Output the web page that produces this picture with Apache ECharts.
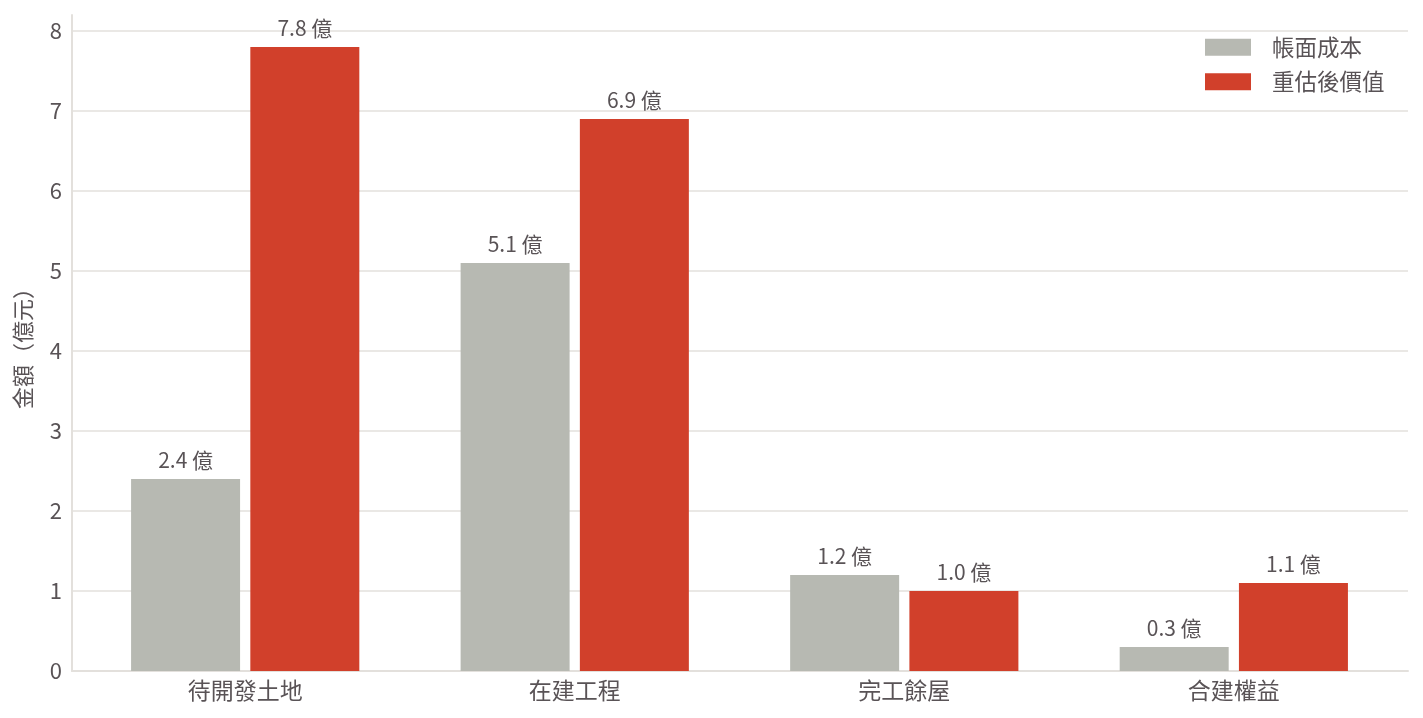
<!DOCTYPE html>
<html>
<head>
<meta charset="utf-8">
<script src="https://cdn.jsdelivr.net/npm/echarts@6/dist/echarts.min.js"></script>
<style>
html,body{margin:0;padding:0;background:#fff;}
#chart{width:1423px;height:718px;}
</style>
</head>
<body>
<div id="chart"></div>
<script>
const categories = ['待開發土地', '在建工程', '完工餘屋', '合建權益'];
const bookCost = [2.4, 5.1, 1.2, 0.3];
const revalued = [7.8, 6.9, 1.0, 1.1];
const seriesNames = ['帳面成本', '重估後價值'];
const yTicks = [0, 1, 2, 3, 4, 5, 6, 7, 8];

const FONT = '"Noto Sans CJK TC", "Noto Sans", sans-serif';
const TEXT = '#595356';
const LINE = '#e3e0dc';

const chart = echarts.init(document.getElementById('chart'));
const toPts = arr => arr.map((v, i) => [i, v]);
const labelCfg = {
  show: true, position: 'top', distance: 8,
  color: TEXT, fontSize: 21, fontFamily: FONT,
  formatter: p => p.value[1].toFixed(1) + ' 億'
};
chart.setOption({
  animation: false,
  textStyle: { fontFamily: FONT },
  grid: { left: 72, right: 15, top: 15, bottom: 47, containLabel: false },
  legend: {
    orient: 'vertical', left: 1200, top: 31,
    itemWidth: 46, itemHeight: 17, itemGap: 12, icon: 'rect',
    textStyle: { color: TEXT, fontSize: 22.5, lineHeight: 22, fontFamily: FONT, padding: [0, 0, 0, 16] },
    data: seriesNames
  },
  xAxis: {
    type: 'value', min: -0.5256, max: 3.5286,
    axisLine: { show: true, onZero: false, lineStyle: { color: LINE, width: 2 } },
    axisTick: { show: false },
    splitLine: { show: false },
    axisLabel: {
      customValues: [0, 1, 2, 3],
      formatter: v => categories[Math.round(v)] || '',
      color: TEXT, fontSize: 23, fontFamily: FONT, margin: 8
    }
  },
  yAxis: {
    type: 'value', min: 0, max: 8.2, interval: 1,
    name: '金額（億元）', nameLocation: 'middle', nameGap: 38, nameRotate: 90,
    nameTextStyle: { color: TEXT, fontSize: 22, fontFamily: FONT },
    axisLine: { show: true, onZero: false, lineStyle: { color: LINE, width: 2 } },
    axisTick: { show: false },
    axisLabel: { customValues: yTicks, color: TEXT, fontSize: 22, fontFamily: FONT, margin: 10 },
    splitLine: { show: true, showMaxLine: false, lineStyle: { color: LINE, width: 1.5 } }
  },
  series: [
    { name: seriesNames[0], type: 'bar', data: toPts(bookCost), barWidth: 109, barGap: '9.4%',
      itemStyle: { color: '#b7b9b2' }, label: labelCfg },
    { name: seriesNames[1], type: 'bar', data: toPts(revalued), barWidth: 109, barGap: '9.4%',
      itemStyle: { color: '#d1402b' }, label: labelCfg }
  ]
});
</script>
</body>
</html>
